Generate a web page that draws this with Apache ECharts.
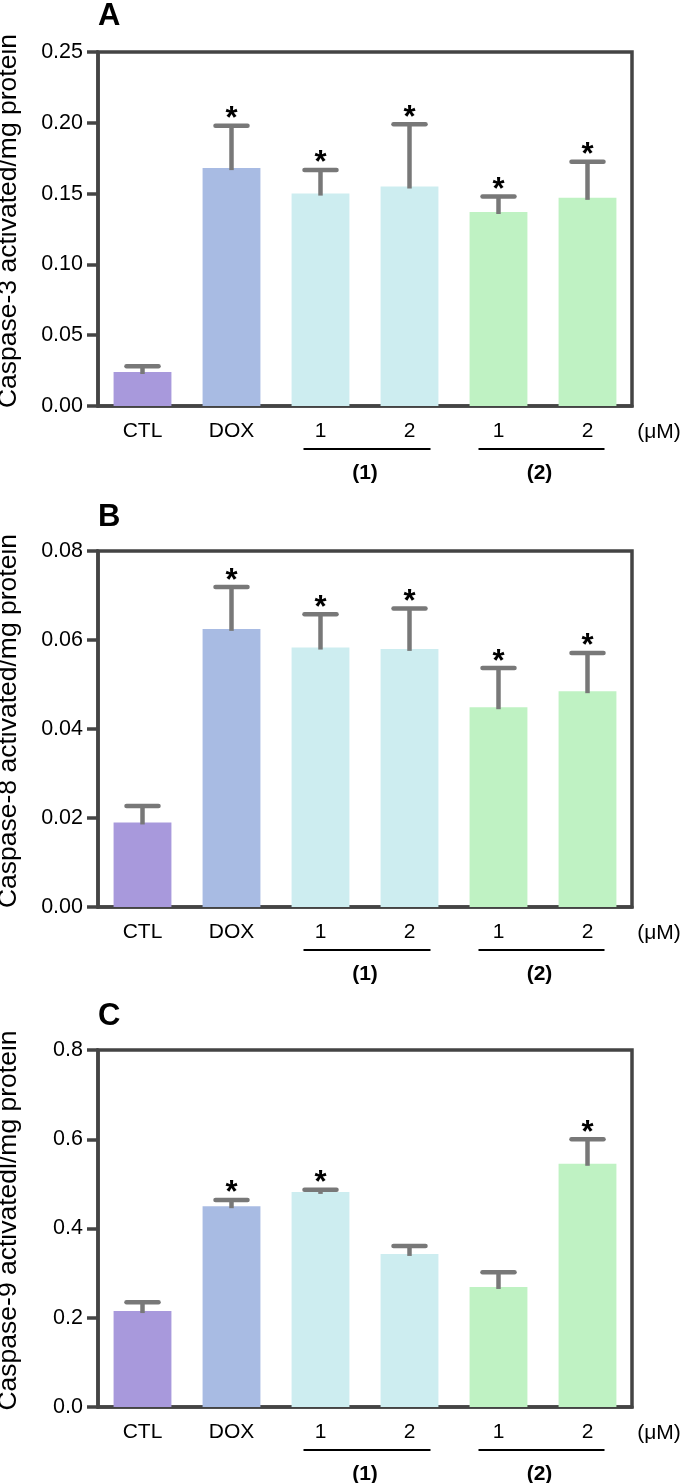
<!DOCTYPE html>
<html><head><meta charset="utf-8">
<script src="https://cdn.jsdelivr.net/npm/echarts@6/dist/echarts.min.js"></script>
<style>html,body{margin:0;padding:0;background:#fff}#c{width:685px;height:1483px}</style>
</head><body><div id="c"></div>
<script>
// ---- data ----
const categories = ['CTL', 'DOX', '1', '2', '1', '2'];
const groupLabels = ['(1)', '(2)'];
const unitLabel = '(μM)';
const panelLetters = ['A', 'B', 'C'];
const yTitles = ['Caspase-3 activated/mg protein', 'Caspase-8 activated/mg protein', 'Caspase-9 activatedl/mg protein'];

const casp3Mean = [0.024, 0.168, 0.150, 0.155, 0.137, 0.147];
const casp3Err  = [0.004, 0.030, 0.0167, 0.044, 0.011, 0.0255];
const casp3Sig  = [0, 1, 1, 1, 1, 1];

const casp8Mean = [0.019, 0.0625, 0.0583, 0.058, 0.0449, 0.0485];
const casp8Err  = [0.0037, 0.0094, 0.0075, 0.0091, 0.0088, 0.0086];
const casp8Sig  = [0, 1, 1, 1, 1, 1];

const casp9Mean = [0.215, 0.450, 0.482, 0.343, 0.269, 0.545];
const casp9Err  = [0.020, 0.014, 0.005, 0.018, 0.033, 0.055];
const casp9Sig  = [0, 1, 1, 0, 0, 1];

const yMax = [0.25, 0.08, 0.8];
const yStep = [0.05, 0.02, 0.2];
const yDecimals = [2, 2, 1];

// ---- style / layout ----
const barColors = ['#a899dc', '#a8bbe3', '#cdedf0', '#cdedf0', '#bff2c3', '#bff2c3'];
const FONT = "'Liberation Sans', Arial, sans-serif";
const FRAME = '#444444';
const ERR = '#787878';
const gridTops = [52, 551, 1050];
const gridHeights = [354, 356, 357];
const gridLeft = 98, gridRight = 53;
const letterY = [16, 517, 1016];

const panels = [
  {mean: casp3Mean, err: casp3Err, sig: casp3Sig},
  {mean: casp8Mean, err: casp8Err, sig: casp8Sig},
  {mean: casp9Mean, err: casp9Err, sig: casp9Sig}
];

const chart = echarts.init(document.getElementById('c'), null, {renderer: 'canvas'});

const grid = [], xAxis = [], yAxis = [], series = [];
panels.forEach((p, i) => {
  grid.push({left: gridLeft, right: gridRight, top: gridTops[i], height: gridHeights[i],
    containLabel: false, outerBoundsMode: 'none',
    show: true, borderColor: FRAME, borderWidth: 3.5, backgroundColor: 'transparent'});
  xAxis.push({type: 'category', gridIndex: i, data: categories,
    axisLine: {lineStyle: {color: FRAME, width: 3.5}},
    axisTick: {alignWithLabel: true, length: 10, lineStyle: {color: FRAME, width: 3.5}},
    axisLabel: {color: '#000', fontSize: 21, fontFamily: FONT, margin: 15},
    splitLine: {show: false}});
  yAxis.push({type: 'value', gridIndex: i, min: 0, max: yMax[i], interval: yStep[i],
    name: yTitles[i], nameLocation: 'middle', nameGap: 76, nameRotate: 90,
    nameTextStyle: {color: '#000', fontSize: 26.5, fontFamily: FONT, padding: [0, 0, 0, 16]},
    axisLine: {show: true, lineStyle: {color: FRAME, width: 3.5}},
    axisTick: {show: true, length: 11, lineStyle: {color: FRAME, width: 3.5}},
    axisLabel: {color: '#000', fontSize: 21.5, fontFamily: FONT, margin: 15,
      formatter: v => v.toFixed(yDecimals[i])},
    splitLine: {show: false}});
  series.push({type: 'bar', xAxisIndex: i, yAxisIndex: i, barWidth: '65%',
    data: p.mean.map((v, k) => ({value: v, itemStyle: {color: barColors[k]}})),
    silent: true, z: 2});
  series.push({type: 'custom', xAxisIndex: i, yAxisIndex: i, z: 3, silent: true,
    encode: {x: 0, y: 1},
    data: p.mean.map((v, k) => [k, v, p.err[k], p.sig[k]]),
    renderItem: function (params, api) {
      const x = api.value(0), m = api.value(1), e = api.value(2), s = api.value(3);
      const base = api.coord([x, m]);
      const top = api.coord([x, m + e]);
      const hw = 16;
      const children = [
        {type: 'line', shape: {x1: base[0], y1: base[1] + 2, x2: top[0], y2: top[1]},
          style: {stroke: ERR, lineWidth: 4.5}},
        {type: 'line', shape: {x1: top[0] - hw, y1: top[1], x2: top[0] + hw, y2: top[1]},
          style: {stroke: ERR, lineWidth: 4.5, lineCap: 'round'}}
      ];
      if (s) {
        children.push({type: 'text', style: {text: '*', x: top[0], y: top[1] - 6,
          align: 'center', verticalAlign: 'middle', fontSize: 31, fontWeight: 'bold',
          fontFamily: FONT, fill: '#000'}});
      }
      return {type: 'group', children: children};
    }});
});

chart.setOption({animation: false, backgroundColor: '#fff', grid, xAxis, yAxis, series});

// annotations positioned from the axes
const graphic = [];
panels.forEach((p, i) => {
  const px = k => chart.convertToPixel({xAxisIndex: i, yAxisIndex: i}, [k, 0]);
  const axisY = px(0)[1];
  const lineY = axisY + 43;
  const labY = axisY + 67;
  const groups = [[px(2)[0] - 17, px(3)[0] + 21], [px(4)[0] - 20, px(5)[0] + 17]];
  groups.forEach((g, j) => {
    graphic.push({type: 'line', shape: {x1: g[0], y1: lineY, x2: g[1], y2: lineY},
      style: {stroke: '#000', lineWidth: 1.8}, silent: true});
    graphic.push({type: 'text', x: (g[0] + g[1]) / 2 - 2, y: labY,
      style: {text: groupLabels[j], align: 'center', verticalAlign: 'middle',
        fontSize: 21, fontWeight: 'bold', fontFamily: FONT, fill: '#000'}, silent: true});
  });
  const rightX = px(5)[0] + (px(5)[0] - px(4)[0]) / 2;
  graphic.push({type: 'text', x: rightX + 27, y: axisY + 26,
    style: {text: unitLabel, align: 'center', verticalAlign: 'middle',
      fontSize: 21, fontFamily: FONT, fill: '#000'}, silent: true});
  graphic.push({type: 'text', x: gridLeft, y: letterY[i],
    style: {text: panelLetters[i], align: 'left', verticalAlign: 'middle',
      fontSize: 31, fontWeight: 'bold', fontFamily: FONT, fill: '#000'}, silent: true});
});
chart.setOption({graphic: graphic});
</script></body></html>
